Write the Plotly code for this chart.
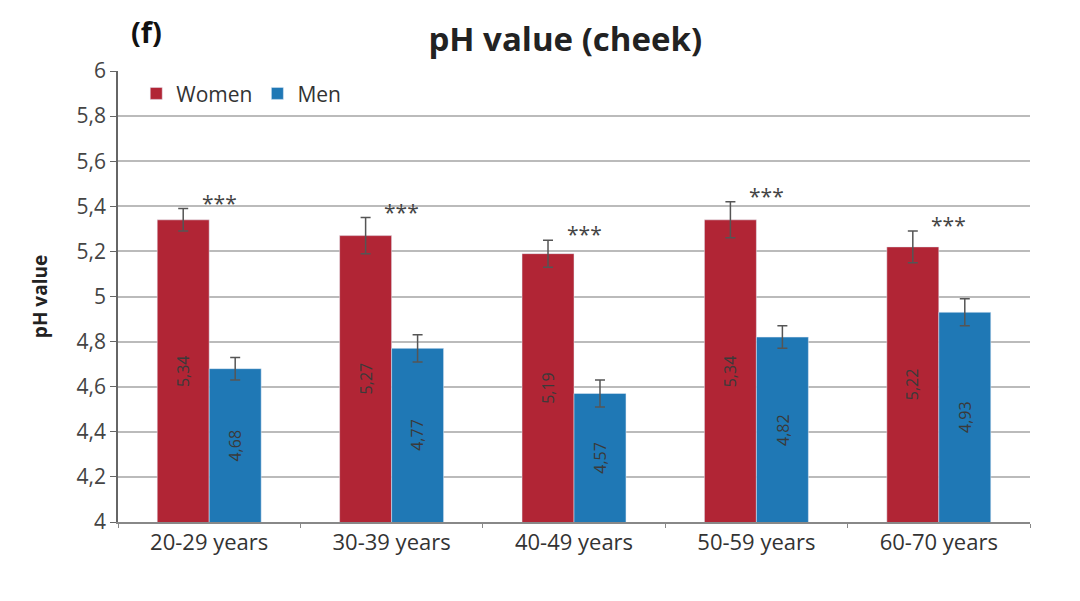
import plotly.graph_objects as go

categories = ["20-29 years", "30-39 years", "40-49 years", "50-59 years", "60-70 years"]
women = [5.34, 5.27, 5.19, 5.34, 5.22]
women_err = [0.05, 0.08, 0.06, 0.08, 0.07]
men = [4.68, 4.77, 4.57, 4.82, 4.93]
men_err = [0.05, 0.06, 0.06, 0.05, 0.06]
signif = ["***", "***", "***", "***", "***"]
y_min, y_max = 4, 6

def fmt(v):
    return f"{v:.2f}".replace(".", ",")

font = "Open Sans"
women_color = "#B12535"
men_color = "#1F78B5"

fig = go.Figure()
fig.add_trace(go.Bar(
    name="Women", x=categories, y=women, marker_color=women_color,
    error_y=dict(type="data", array=women_err, color="#555555", thickness=1.5, width=5),
))
fig.add_trace(go.Bar(
    name="Men", x=categories, y=men, marker_color=men_color,
    error_y=dict(type="data", array=men_err, color="#555555", thickness=1.5, width=5),
))

# value labels inside the bars (rotated), centred vertically in each bar
for c, w, m in zip(categories, women, men):
    fig.add_annotation(x=c, y=(y_min + w) / 2, text=fmt(w), showarrow=False, xshift=-26,
                       textangle=-90, font=dict(size=16, color="#3a3a3a", family=font))
    fig.add_annotation(x=c, y=(y_min + m) / 2, text=fmt(m), showarrow=False, xshift=26,
                       textangle=-90, font=dict(size=16, color="#3a3a3a", family=font))

for c, w, e, s in zip(categories, women, women_err, signif):
    fig.add_annotation(x=c, y=w + e, text=s, showarrow=False, xshift=10, yshift=6,
                       font=dict(size=21, color="#444444", family=font))

fig.add_annotation(x=0.012, y=1.135, xref="paper", yref="paper", text="<b>(f)</b>",
                   showarrow=False, font=dict(size=29, color="#111111", family=font))

fig.update_layout(
    width=1080, height=601,
    margin=dict(l=110, r=58, t=63, b=87),
    paper_bgcolor="white", plot_bgcolor="white",
    separators=", ",
    barmode="group", bargap=0.43, bargroupgap=0,
    title=dict(text="<b>pH value (cheek)</b>", x=0.516, xanchor="center", y=0.947,
               yanchor="middle", font=dict(size=33, color="#222222", family=font)),
    legend=dict(orientation="h", x=0.02, y=0.995, xanchor="left", yanchor="top",
                font=dict(size=21, color="#333333", family=font), bgcolor="rgba(0,0,0,0)",
                itemwidth=30),
    font=dict(family=font),
)
fig.update_yaxes(range=[y_min, y_max], dtick=0.2, showgrid=True, gridcolor="#BBBBBB", gridwidth=2,
                 showline=True, linecolor="#666666", linewidth=1.5, ticks="outside",
                 ticklen=6, tickcolor="#666666",
                 tickfont=dict(size=21, color="#444444", family=font),
                 title=dict(text="<b>pH value</b>", font=dict(size=19, color="#222222", family=font),
                            standoff=24))
fig.update_xaxes(showline=True, linecolor="#888888", linewidth=1.5, ticks="outside",
                 tickson="boundaries", ticklen=4, tickcolor="#888888",
                 tickfont=dict(size=22, color="#333333", family=font))

fig.write_html("out.html")
